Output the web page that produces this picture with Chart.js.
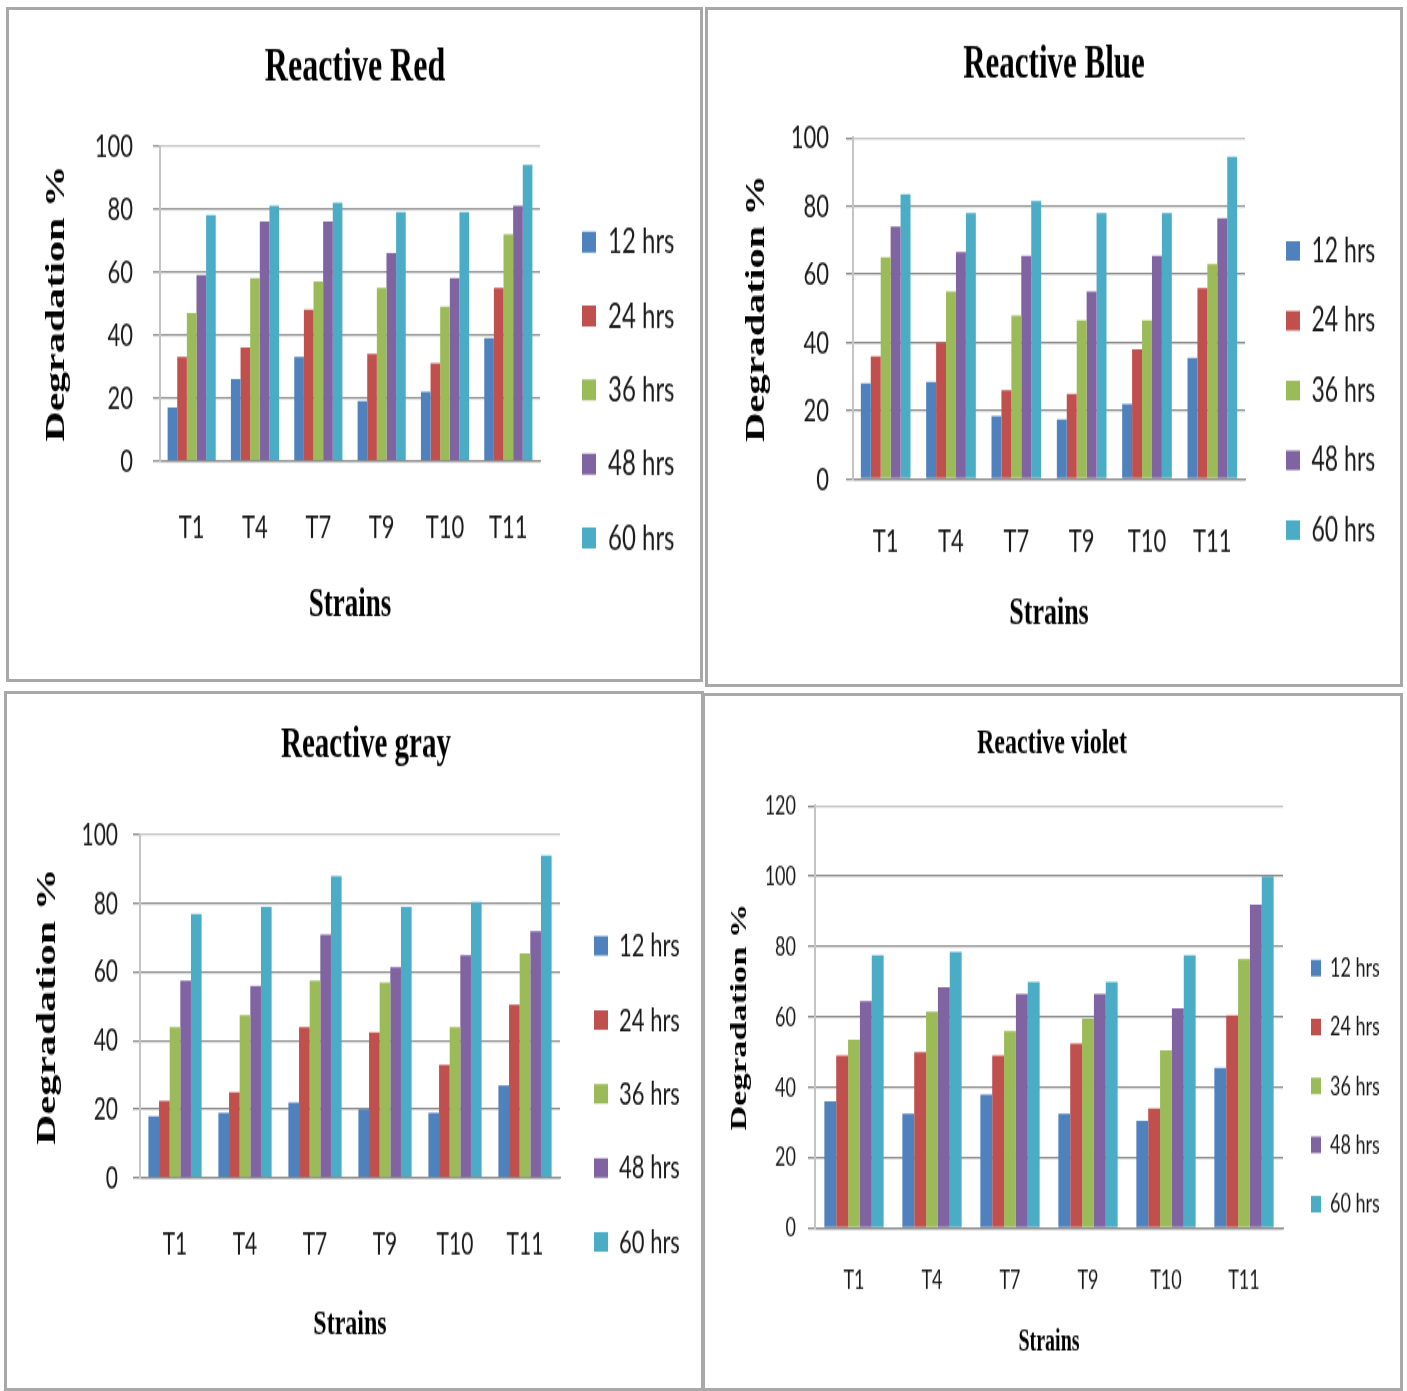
<!DOCTYPE html>
<html><head><meta charset="utf-8">
<script src="https://cdn.jsdelivr.net/npm/chart.js@4.4.1/dist/chart.umd.min.js"></script>
<style>
html,body{margin:0;padding:0;background:#fff;overflow:hidden;width:1407px;height:1391px}
.panel{position:absolute;box-sizing:border-box;border:3px solid #a8a8a8;background:#fff;overflow:hidden}
.stretch{transform-origin:0 0}
canvas{display:block}
</style></head><body>
<div class="panel" id="p1"><div class="stretch"><canvas id="c1"></canvas></div></div>
<div class="panel" id="p2"><div class="stretch"><canvas id="c2"></canvas></div></div>
<div class="panel" id="p3"><div class="stretch"><canvas id="c3"></canvas></div></div>
<div class="panel" id="p4"><div class="stretch"><canvas id="c4"></canvas></div></div>
<script>
// ---------- data ----------
const strains = ['T1', 'T4', 'T7', 'T9', 'T10', 'T11'];
const hourLabels = ['12 hrs', '24 hrs', '36 hrs', '48 hrs', '60 hrs'];
const yTicksMax = [100, 100, 100, 120];

const red12 = [17, 26, 33, 19, 22, 39];
const red24 = [33, 36, 48, 34, 31, 55];
const red36 = [47, 58, 57, 55, 49, 72];
const red48 = [59, 76, 76, 66, 58, 81];
const red60 = [78, 81, 82, 79, 79, 94];

const blue12 = [28, 28.5, 18.5, 17.5, 22, 35.5];
const blue24 = [36, 40, 26, 25, 38, 56];
const blue36 = [65, 55, 48, 46.5, 46.5, 63];
const blue48 = [74, 66.5, 65.5, 55, 65.5, 76.5];
const blue60 = [83.5, 78, 81.5, 78, 78, 94.5];

const gray12 = [18, 19, 22, 20, 19, 27];
const gray24 = [22.5, 25, 44, 42.5, 33, 50.5];
const gray36 = [44, 47.5, 57.5, 57, 44, 65.5];
const gray48 = [57.5, 56, 71, 61.5, 65, 72];
const gray60 = [77, 79, 88, 79, 80.5, 94];

const violet12 = [36, 32.5, 38, 32.5, 30.5, 45.5];
const violet24 = [49, 50, 49, 52.5, 34, 60.5];
const violet36 = [53.5, 61.5, 56, 59.5, 50.5, 76.5];
const violet48 = [64.5, 68.5, 66.5, 66.5, 62.5, 92];
const violet60 = [77.5, 78.5, 70, 70, 77.5, 100];

// ---------- styles ----------
const barColors = ['#4F81BD', '#C0504D', '#9BBB59', '#8064A2', '#4BACC6'];
const gridColor = '#8c8c8c';
const SERIF = "'Liberation Serif', 'Times New Roman', serif";
const SANS = "Lato, 'Liberation Sans', sans-serif";

// ---------- layout (page pixels) ----------
const L1 = {left:6, top:7, width:697, height:675, titleX:355, titleY:68, titleSize:32,
  plotLeft:160, plotRight:540, yTop:146, yBottom:461, tickLen:7, tickRight:133, tickSize:22,
  yTitleX:57, yTitleSize:28, xLabelY:527, xTitleY:605, xTitleSize:27,
  boxX:582, legFirstY:242, legSpacing:74, legSize:24, boxW:14, boxH:14};
const L2 = {left:705, top:7, width:698, height:680, titleX:1054, titleY:66, titleSize:31,
  plotLeft:853, plotRight:1245, yTop:138, yBottom:479, tickLen:7, tickRight:829, tickSize:22,
  yTitleX:757, yTitleSize:27, xLabelY:541, xTitleY:614, xTitleSize:26,
  boxX:1286, legFirstY:251, legSpacing:69.75, legSize:23, boxW:14, boxH:13};
const L3 = {left:4, top:691, width:700, height:700, titleX:366, titleY:745, titleSize:29,
  plotLeft:140, plotRight:560, yTop:835, yBottom:1178, tickLen:7, tickRight:118, tickSize:21,
  yTitleX:48, yTitleSize:28, xLabelY:1245, xTitleY:1325, xTitleSize:24,
  boxX:594, legFirstY:946, legSpacing:74, legSize:22, boxW:14, boxH:13};
const L4 = {left:702, top:693, width:701, height:698, titleX:1052, titleY:744, titleSize:24,
  plotLeft:815, plotRight:1283, yTop:806, yBottom:1228, tickLen:7, tickRight:796, tickSize:18,
  yTitleX:740, yTitleSize:23, xLabelY:1280, xTitleY:1343, xTitleSize:20,
  boxX:1311, legFirstY:968, legSpacing:59, legSize:18, boxW:10, boxH:11};

function makeChart(id, L, titleText, series, yMax) {
  const panel = document.getElementById('p' + id);
  panel.style.left = L.left + 'px'; panel.style.top = L.top + 'px';
  panel.style.width = L.width + 'px'; panel.style.height = L.height + 'px';
  const b = 3;
  const ox = L.left + b, oy = L.top + b;
  const W = L.width - 2 * b, CH = L.height - 2 * b;
  const H = Math.round(CH / 1.5), s = CH / H;
  const cx = x => x - ox, cy = y => (y - oy) / s;
  const wrap = panel.querySelector('.stretch');
  wrap.style.width = W + 'px'; wrap.style.height = H + 'px';
  wrap.style.transform = 'scaleY(' + s + ')';
  const cv = document.getElementById('c' + id);
  cv.width = W; cv.height = H;

  const tcx = cx(L.titleX);
  let padL = 0, padR = 0;
  if (tcx > W / 2) padL = 2 * tcx - W; else padR = W - 2 * tcx;

  const tLH = L.titleSize * 1.2;
  const tPadTop = cy(L.titleY) - tLH / 2;
  const chartTop = cy(L.yTop);
  const tPadBottom = chartTop - tPadTop - tLH;

  const yWidth = cx(L.plotLeft) - padL;
  const yTickPad = cx(L.plotLeft) - L.tickLen - cx(L.tickRight);
  const yTLH = L.yTitleSize * 1.2;
  const yTitlePad = cx(L.yTitleX) - padL - yTLH / 2;

  const chartBottom = cy(L.yBottom);
  const xHeight = H - chartBottom;
  const xTickPad = cy(L.xLabelY) - chartBottom - L.tickSize * 1.2 / 2;
  const xTLH = L.xTitleSize * 1.2;
  const xTitlePad = H - cy(L.xTitleY) - xTLH / 2;

  const ih = Math.max(L.legSize, L.boxH);
  const legPad = L.legSpacing / s - ih;
  const legLeft = cx(L.boxX) - legPad;
  const legWidth = W - padR - legLeft;
  const gapW = legLeft - cx(L.plotRight);
  const legMid = cy(L.legFirstY + 2 * L.legSpacing);
  const th = Math.max(2 * legMid - H, 1.2);

  const datasets = series.map((arr, i) => ({
    label: hourLabels[i],
    data: arr,
    backgroundColor: barColors[i],
    borderWidth: 0,
    yAxisID: 'y',
    categoryPercentage: 0.76,
    barPercentage: 1.0
  }));

  new Chart(cv, {
    type: 'bar',
    data: { labels: strains, datasets },
    options: {
      responsive: false,
      animation: false,
      devicePixelRatio: 1,
      layout: { padding: { left: padL, right: padR, top: 0, bottom: 0 } },
      plugins: {
        tooltip: { enabled: false },
        title: {
          display: true, text: titleText, color: '#000',
          font: { family: SERIF, size: L.titleSize, weight: 'bold' },
          padding: { top: tPadTop, bottom: tPadBottom }
        },
        legend: {
          display: true, position: 'right', align: 'center',
          maxWidth: legWidth,
          title: { display: true, text: '', font: { size: 1 }, padding: { top: th - 1.2, bottom: 0 } },
          labels: {
            boxWidth: L.boxW, boxHeight: L.boxH, padding: legPad, color: '#1a1a1a',
            font: { family: SANS, size: L.legSize },
            generateLabels: (chart) => Chart.defaults.plugins.legend.labels.generateLabels(chart)
              .map(it => Object.assign(it, { text: it.text + '                    ', lineWidth: 0 }))
          }
        }
      },
      scales: {
        x: {
          grid: { display: false, drawTicks: false },
          border: { display: true, color: gridColor, width: 1.3 },
          ticks: { color: '#1a1a1a', padding: xTickPad, autoSkip: false, maxRotation: 0, minRotation: 0,
                   font: { family: SANS, size: L.tickSize } },
          title: { display: true, text: 'Strains', color: '#000',
                   font: { family: SERIF, size: L.xTitleSize, weight: 'bold' },
                   padding: { top: 0, bottom: xTitlePad } },
          afterFit: (sc) => { sc.height = xHeight; }
        },
        y: {
          position: 'left', min: 0, max: yMax,
          ticks: { stepSize: 20, color: '#1a1a1a', padding: yTickPad,
                   font: { family: SANS, size: L.tickSize } },
          grid: {
            color: (c) => (c.tick && c.tick.value === yMax) ? '#c4c4c4' : gridColor,
            lineWidth: 1.3, drawTicks: true, tickLength: L.tickLen, tickColor: gridColor
          },
          border: { display: true, color: '#c4c4c4', width: 2 },
          title: { display: true, text: 'Degradation %', color: '#000',
                   font: { family: SERIF, size: L.yTitleSize, weight: 'bold' },
                   padding: { top: yTitlePad, bottom: 0 } },
          afterFit: (sc) => { sc.width = yWidth; }
        },
        gap: {
          type: 'linear', position: 'right', display: true,
          grid: { display: false, drawTicks: false },
          border: { display: false },
          ticks: { display: false },
          afterFit: (sc) => { sc.width = gapW; }
        }
      }
    }
  });
}

makeChart(1, L1, 'Reactive Red', [red12, red24, red36, red48, red60], yTicksMax[0]);
makeChart(2, L2, 'Reactive Blue', [blue12, blue24, blue36, blue48, blue60], yTicksMax[1]);
makeChart(3, L3, 'Reactive gray', [gray12, gray24, gray36, gray48, gray60], yTicksMax[2]);
makeChart(4, L4, 'Reactive violet', [violet12, violet24, violet36, violet48, violet60], yTicksMax[3]);
</script>
</body></html>
